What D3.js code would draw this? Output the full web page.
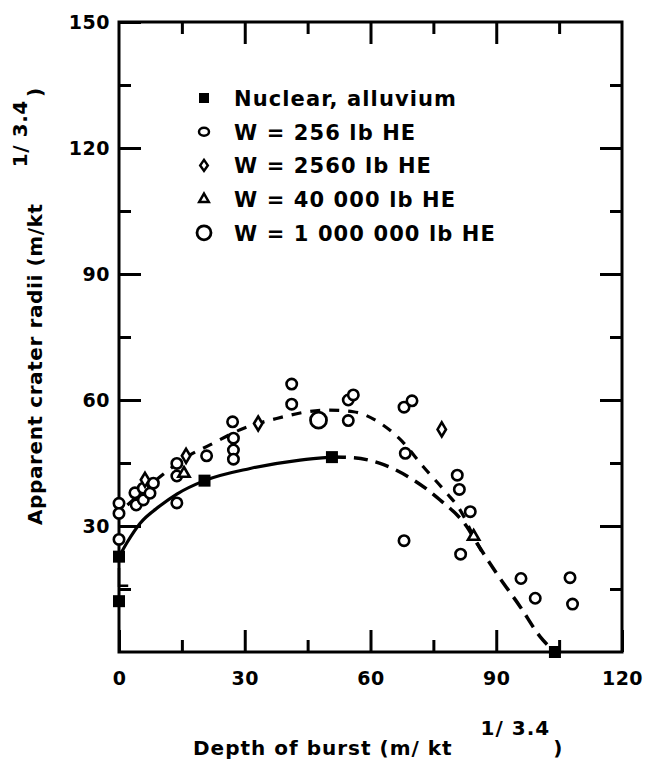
<!DOCTYPE html>
<html>
<head>
<meta charset="utf-8">
<script src="https://cdn.jsdelivr.net/npm/d3@7"></script>
<style>
  html, body { margin: 0; padding: 0; background: #fff; }
  text { font-family: "DejaVu Sans", sans-serif; font-weight: bold; fill: #000; }
</style>
</head>
<body>
<svg id="chart" width="650" height="763"></svg>
<script>
// ---------------- data ----------------
const xMajorTicks = [0, 30, 60, 90, 120];
const xMinorTicks = [15, 45, 75, 105];
const yMajorTicks = [30, 60, 90, 120, 150];
const yMinorTicks = [15, 45, 75, 105, 135];

const legendLabels = [
  "Nuclear, alluvium",
  "W = 256 lb HE",
  "W = 2560 lb HE",
  "W = 40 000 lb HE",
  "W = 1 000 000 lb HE"
];
const legendSymbols = ["square", "circle", "diamond", "triangle", "bigcircle"];

// Nuclear, alluvium (filled squares)
const nuclearX = [0, 0, 20.4, 50.8, 104];
const nuclearY = [22.7, 12.1, 40.8, 46.4, 0];

// W = 256 lb HE (small open circles)
const he256X = [0, 0, 0, 3.8, 4.1, 5.8, 5.8, 7.4, 8.2, 13.8, 13.8, 13.8, 20.9, 27.1, 27.3, 27.3, 27.3,
  41.2, 41.2, 54.7, 54.7, 55.9, 68, 69.9, 68.3, 80.7, 81.2, 83.8, 68, 81.5, 95.9, 99.3, 107.6, 108.2];
const he256Y = [35.4, 33, 26.8, 37.9, 35, 39, 36.2, 37.8, 40.2, 44.9, 41.9, 35.5, 46.7, 54.8, 50.9, 48.1, 45.9,
  63.8, 59, 55.1, 60, 61.2, 58.3, 59.8, 47.3, 42.1, 38.7, 33.4, 26.5, 23.3, 17.5, 12.8, 17.7, 11.4];

// W = 2560 lb HE (diamonds)
const he2560X = [6.2, 16, 33.2, 77];
const he2560Y = [41, 46.7, 54.4, 53];

// W = 40 000 lb HE (triangles)
const he40kX = [15.5, 84.6];
const he40kY = [42.5, 27.5];

// W = 1 000 000 lb HE (large open circles)
const he1mX = [47.6];
const he1mY = [55.2];

// Fitted curves
const nuclearSolidX = [0, 2, 5, 9.8, 13.8, 20.4, 31.3, 43.2, 50.8];
const nuclearSolidY = [22.7, 26.2, 30.6, 34.8, 37.6, 40.8, 43.7, 45.7, 46.4];
const nuclearDashX = [50.8, 55.5, 62.3, 70.2, 76.6, 83, 85.4, 90.1, 95.7, 100.5, 104];
const nuclearDashY = [46.4, 46.3, 44.9, 41, 36.2, 29.8, 25.9, 18.7, 10.8, 3.6, 0];
const heDashX = [2, 9.8, 16.2, 21.7, 28.9, 37.6, 49.6, 55.9, 62.3, 67.5, 72.6, 78.2, 81.4, 84.6, 86.5];
const heDashY = [35, 41.7, 46.5, 49.3, 52.9, 55.6, 57.6, 57.2, 54.5, 50.2, 44.1, 37.8, 33.8, 27.5, 24];

// Small bracket mark between the two nuclear points at zero depth
const bracketX = [0, 0, 2.2];
const bracketY = [20, 15.8, 15.8];

// ---------------- drawing ----------------
const svg = d3.select("#chart");
const margin = { left: 119, top: 22 };
const W = 503, H = 630;

const x = d3.scaleLinear().domain([0, 120]).range([0, W]);
const y = d3.scaleLinear().domain([0, 150]).range([H, 0]);

const g = svg.append("g").attr("transform", `translate(${margin.left},${margin.top})`);

const zip = (xs, ys) => xs.map((v, i) => [v, ys[i]]);

// frame
g.append("rect").attr("x", 0).attr("y", 0).attr("width", W).attr("height", H)
  .attr("fill", "none").attr("stroke", "#000").attr("stroke-width", 3);

function styleAxis(sel) {
  sel.select(".domain").remove();
  sel.selectAll(".tick line").attr("stroke", "#000").attr("stroke-width", 3);
  sel.selectAll(".tick text").style("font-size", "19px").style("letter-spacing", "0.5px")
    .style("font-family", "DejaVu Sans").style("font-weight", "bold").attr("fill", "#000");
}

// bottom
g.append("g").attr("transform", `translate(0,${H})`)
  .call(d3.axisBottom(x).tickValues(xMajorTicks).tickSize(-22).tickPadding(20).tickFormat(d3.format("d")))
  .call(styleAxis);
g.append("g").attr("transform", `translate(0,${H})`)
  .call(d3.axisBottom(x).tickValues(xMinorTicks).tickSize(-12).tickFormat(""))
  .call(styleAxis);
// top
g.append("g")
  .call(d3.axisTop(x).tickValues(xMajorTicks.slice(1, -1)).tickSize(-22).tickFormat(""))
  .call(styleAxis);
g.append("g")
  .call(d3.axisTop(x).tickValues(xMinorTicks).tickSize(-12).tickFormat(""))
  .call(styleAxis);
// left
g.append("g")
  .call(d3.axisLeft(y).tickValues(yMajorTicks).tickSize(-22).tickPadding(9).tickFormat(d3.format("d")))
  .call(styleAxis);
g.append("g")
  .call(d3.axisLeft(y).tickValues(yMinorTicks).tickSize(-12).tickFormat(""))
  .call(styleAxis);
// right
g.append("g").attr("transform", `translate(${W},0)`)
  .call(d3.axisRight(y).tickValues(yMajorTicks.slice(0, -1)).tickSize(-22).tickFormat(""))
  .call(styleAxis);
g.append("g").attr("transform", `translate(${W},0)`)
  .call(d3.axisRight(y).tickValues(yMinorTicks).tickSize(-12).tickFormat(""))
  .call(styleAxis);

// curves
const line = d3.line().x(d => x(d[0])).y(d => y(d[1])).curve(d3.curveMonotoneX);
g.append("path").attr("d", line(zip(nuclearSolidX, nuclearSolidY)))
  .attr("fill", "none").attr("stroke", "#000").attr("stroke-width", 3.2);
g.append("path").attr("d", line(zip(nuclearDashX, nuclearDashY)))
  .attr("fill", "none").attr("stroke", "#000").attr("stroke-width", 3.5)
  .attr("stroke-dasharray", "14,8");
g.append("path").attr("d", line(zip(heDashX, heDashY)))
  .attr("fill", "none").attr("stroke", "#000").attr("stroke-width", 3.2)
  .attr("stroke-dasharray", "10,9");
g.append("path").attr("d", d3.line().x(d => x(d[0])).y(d => y(d[1]))(zip(bracketX, bracketY)))
  .attr("fill", "none").attr("stroke", "#000").attr("stroke-width", 2.5);

// markers
function drawMarker(sel, type) {
  if (type === "square") {
    sel.append("rect").attr("x", -6).attr("y", -6).attr("width", 12).attr("height", 12)
      .attr("fill", "#000");
  } else if (type === "circle") {
    sel.append("circle").attr("r", 5.2).attr("fill", "#fff").attr("stroke", "#000").attr("stroke-width", 2.6);
  } else if (type === "bigcircle") {
    sel.append("circle").attr("r", 8).attr("fill", "#fff").attr("stroke", "#000").attr("stroke-width", 2.8);
  } else if (type === "diamond") {
    sel.append("path").attr("d", "M0,-7L4.2,0L0,7L-4.2,0Z")
      .attr("fill", "#fff").attr("stroke", "#000").attr("stroke-width", 2.6);
  } else if (type === "triangle") {
    sel.append("path").attr("d", d3.symbol(d3.symbolTriangle, 55)())
      .attr("fill", "#fff").attr("stroke", "#000").attr("stroke-width", 2.6);
  }
}
function drawSeries(xs, ys, type) {
  zip(xs, ys).forEach(p => {
    const m = g.append("g").attr("transform", `translate(${x(p[0])},${y(p[1])})`);
    drawMarker(m, type);
  });
}
drawSeries(he256X, he256Y, "circle");
drawSeries(he2560X, he2560Y, "diamond");
drawSeries(he40kX, he40kY, "triangle");
drawSeries(he1mX, he1mY, "bigcircle");
drawSeries(nuclearX, nuclearY, "square");

// legend
const legend = svg.append("g");
legendLabels.forEach((lab, i) => {
  const ly = 98 + i * 33.7;
  const m = legend.append("g").attr("transform", `translate(204,${ly})`);
  if (legendSymbols[i] === "square") {
    m.append("rect").attr("x", -5).attr("y", -5).attr("width", 10).attr("height", 10).attr("fill", "#000");
  } else if (legendSymbols[i] === "circle") {
    m.append("ellipse").attr("rx", 5).attr("ry", 4).attr("fill", "#fff").attr("stroke", "#000").attr("stroke-width", 2.5);
  } else if (legendSymbols[i] === "diamond") {
    m.append("path").attr("d", "M0,-5.5L3.8,0L0,5.5L-3.8,0Z").attr("fill", "#fff").attr("stroke", "#000").attr("stroke-width", 2.5);
  } else if (legendSymbols[i] === "triangle") {
    m.append("path").attr("d", d3.symbol(d3.symbolTriangle, 40)()).attr("fill", "#fff").attr("stroke", "#000").attr("stroke-width", 2.5);
  } else {
    m.append("circle").attr("r", 7).attr("fill", "#fff").attr("stroke", "#000").attr("stroke-width", 2.8);
  }
  legend.append("text").attr("x", 234).attr("y", ly + 8)
    .style("font-size", "21px").style("letter-spacing", "1.1px").text(lab);
});

// x axis title
const xt = svg.append("text").attr("x", 193).attr("y", 755)
  .style("font-size", "20px").style("letter-spacing", "1px");
xt.append("tspan").text("Depth of burst (m/ kt");
xt.append("tspan").attr("dx", 28).attr("dy", -20).text("1/ 3.4");
xt.append("tspan").attr("dx", 3).attr("dy", 20).text(")");

// y axis title
const yt = svg.append("text").attr("transform", "translate(42,525) rotate(-90)")
  .style("font-size", "20px").style("letter-spacing", "0.6px");
yt.append("tspan").text("Apparent crater radii (m/kt");
yt.append("tspan").attr("dx", 36).attr("dy", -15).text("1/ 3.4");
yt.append("tspan").attr("dx", 3).attr("dy", 15).text(")");
</script>
</body>
</html>
